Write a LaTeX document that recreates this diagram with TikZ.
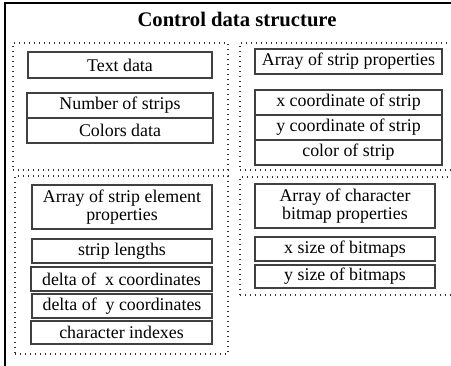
\documentclass[tikz,border=0pt]{standalone}
\usepackage{fontspec}
\setmainfont{Liberation Serif}
\begin{document}
\begin{tikzpicture}[x=0.75pt, y=-0.75pt,
  sz/.style 2 args={minimum width=#1*0.75pt, minimum height=#2*0.75pt},
  field/.style={draw=black!75, line width=1.1pt, inner sep=0pt, outer sep=0pt,
    font=\fontsize{13.4}{13}\selectfont, align=center},
  group/.style={draw=black!80, line width=0.9pt, inner sep=0pt, outer sep=0pt,
    dash pattern=on 0.8pt off 2.95pt},
  frame/.style={draw=black, line width=1.2pt},
  heading/.style={font=\fontsize{15.5}{17}\selectfont\bfseries, inner sep=0pt}]
  \useasboundingbox (0,0) rectangle (451,366);
  \clip (0,0) rectangle (451,366);
  \fill[white] (0,0) rectangle (451,366);

  % outer frame, open to the right and bottom
  \coordinate (fbl) at (5,380);
  \coordinate (ftl) at (5,3);
  \coordinate (ftr) at (470,3);
  \draw[frame] (fbl) -- (ftl) -- (ftr);

  \node[heading] (title) at (237,19) {Control data structure};

  % dotted groups
  \node[group, sz={215}{127}] (g1) at (120.5,106.5) {};
  \node[group, sz={230}{127}] (g2) at (355,106.5) {};
  \node[group, sz={213}{178}] (g3) at (121.5,265) {};
  \node[group, sz={230}{118}] (g4) at (355,236) {};

  % text and colours
  \node[field, sz={184}{26}] (text) at (120,65) {Text data};
  \node[field, sz={186}{25}] (nstrips) at (120,105.5) {Number of strips};
  \node[field, sz={186}{25}] (colors) at (120,130.5) {Colors data};

  % strip properties
  \node[field, sz={187}{25}] (sprops) at (348.5,61.5) {Array of strip properties};
  \node[field, sz={187}{25}] (xcoord) at (348.5,102.5) {x coordinate of strip};
  \node[field, sz={187}{25}] (ycoord) at (348.5,127.5) {y coordinate of strip};
  \node[field, sz={187}{25}] (scolor) at (348.5,152.5) {color of strip};

  % strip element properties
  \node[field, sz={180}{44}] (eprops) at (122,207) {Array of strip element\\properties};
  \node[field, sz={180}{24}] (slen) at (122,251) {strip lengths};
  \node[field, sz={181}{24}] (dx) at (121.5,279) {delta of~~x coordinates};
  \node[field, sz={180}{24}] (dy) at (122,306) {delta of~~y coordinates};
  \node[field, sz={181}{23}] (cidx) at (121.5,332.5) {character indexes};

  % character bitmap properties
  \node[field, sz={180}{44}] (bprops) at (345,206) {Array of character\\bitmap properties};
  \node[field, sz={180}{24}] (xsize) at (345,249) {x size of bitmaps};
  \node[field, sz={180}{23}] (ysize) at (345,276.5) {y size of bitmaps};
\end{tikzpicture}
\end{document}
